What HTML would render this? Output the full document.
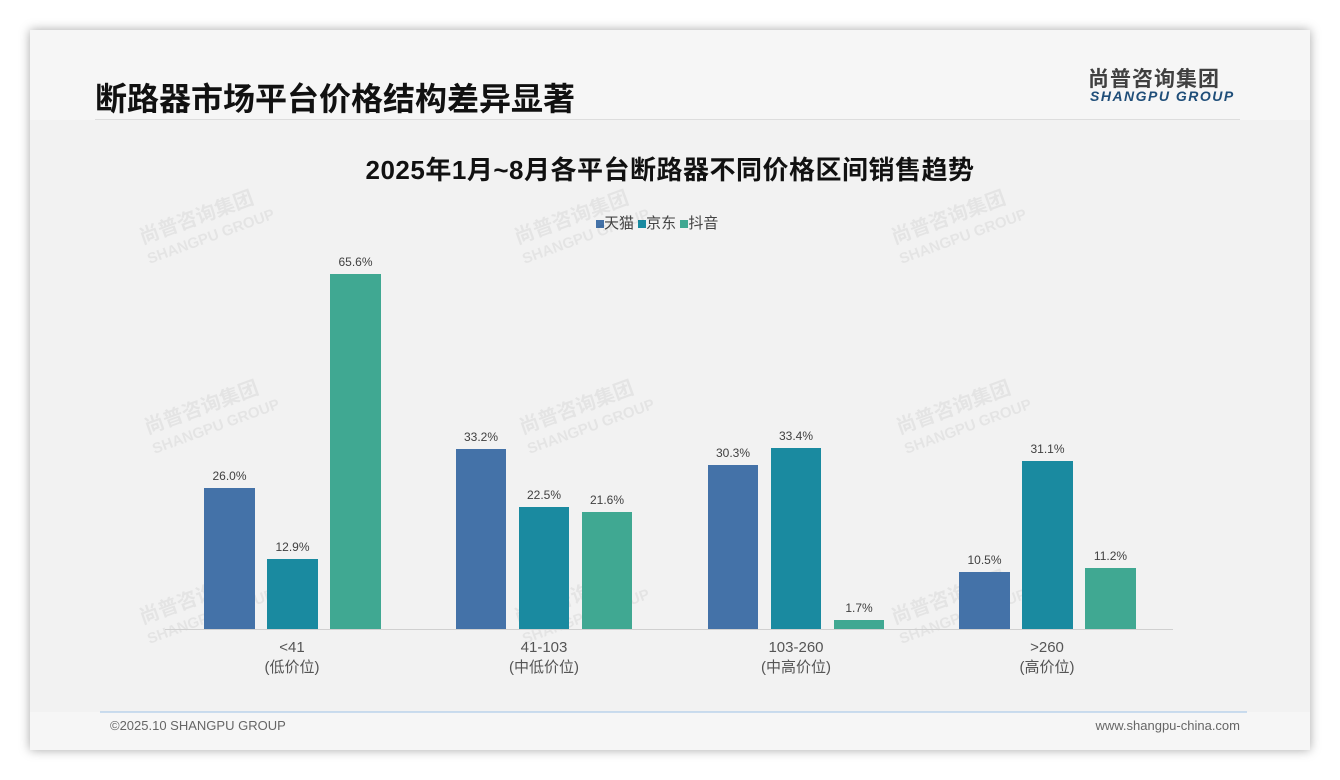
<!DOCTYPE html>
<html><head><meta charset="utf-8"><style>
body{margin:0;width:1340px;height:780px;background:#fff;position:relative;overflow:hidden;font-family:"Liberation Sans","Noto Sans CJK SC",sans-serif}
.card{position:absolute;left:30px;top:30px;width:1280px;height:720px;background:#f6f6f6;box-shadow:0 0 10px rgba(0,0,0,.35)}
.t{position:absolute;font-weight:bold}
.wm{position:absolute;color:rgba(0,0,0,.055);font-weight:bold;transform:rotate(-20deg);line-height:1.05}
</style></head><body>
<div class="card"></div>
<div style="position:absolute;left:30px;top:120px;width:1280px;height:592px;background:#f2f2f2"></div>
<div class="t" style="left:95px;top:74px;font-size:32px;color:#111">断路器市场平台价格结构差异显著</div>
<div style="position:absolute;left:95px;top:119px;width:1145px;height:1px;background:#ddd"></div>
<div class="t" style="left:1088px;top:63px;font-size:21px;color:#404040;letter-spacing:1px">尚普咨询集团</div>
<div class="t" style="left:1090px;top:88px;font-size:14px;color:#1f4e79;font-style:italic;letter-spacing:1.5px">SHANGPU GROUP</div>
<div class="t" style="left:0;width:1340px;text-align:center;top:150px;font-size:26px;letter-spacing:0.5px;color:#111">2025年1月~8月各平台断路器不同价格区间销售趋势</div>
<div style="position:absolute;left:596px;top:212px;font-size:15px;color:#444">
<span style="display:inline-block;width:8px;height:8px;background:#4472a8"></span>天猫 <span style="display:inline-block;width:8px;height:8px;background:#1a8aa0"></span>京东 <span style="display:inline-block;width:8px;height:8px;background:#40a892"></span>抖音</div>
<div class="wm" style="left:140px;top:205px;font-size:20px">尚普咨询集团<br><span style="font-size:15px">SHANGPU GROUP</span></div>
<div class="wm" style="left:515px;top:205px;font-size:20px">尚普咨询集团<br><span style="font-size:15px">SHANGPU GROUP</span></div>
<div class="wm" style="left:892px;top:205px;font-size:20px">尚普咨询集团<br><span style="font-size:15px">SHANGPU GROUP</span></div>
<div class="wm" style="left:145px;top:395px;font-size:20px">尚普咨询集团<br><span style="font-size:15px">SHANGPU GROUP</span></div>
<div class="wm" style="left:520px;top:395px;font-size:20px">尚普咨询集团<br><span style="font-size:15px">SHANGPU GROUP</span></div>
<div class="wm" style="left:897px;top:395px;font-size:20px">尚普咨询集团<br><span style="font-size:15px">SHANGPU GROUP</span></div>
<div class="wm" style="left:140px;top:585px;font-size:20px">尚普咨询集团<br><span style="font-size:15px">SHANGPU GROUP</span></div>
<div class="wm" style="left:515px;top:585px;font-size:20px">尚普咨询集团<br><span style="font-size:15px">SHANGPU GROUP</span></div>
<div class="wm" style="left:892px;top:585px;font-size:20px">尚普咨询集团<br><span style="font-size:15px">SHANGPU GROUP</span></div>
<svg style="position:absolute;left:0;top:0" width="1340" height="780" font-family="Liberation Sans, Noto Sans CJK SC, sans-serif">
<line x1="165" y1="629.5" x2="1173" y2="629.5" stroke="#d0d0d0"/>
<g font-size="12" fill="#404040" text-anchor="middle">
<rect x="204" y="488" width="51" height="141" fill="#4472a8"/><text x="229.5" y="480">26.0%</text>
<rect x="267" y="559" width="51" height="70" fill="#1a8aa0"/><text x="292.5" y="551">12.9%</text>
<rect x="330" y="274" width="51" height="355" fill="#40a892"/><text x="355.5" y="266">65.6%</text>
<rect x="456" y="449" width="50" height="180" fill="#4472a8"/><text x="481" y="441">33.2%</text>
<rect x="519" y="507" width="50" height="122" fill="#1a8aa0"/><text x="544" y="499">22.5%</text>
<rect x="582" y="512" width="50" height="117" fill="#40a892"/><text x="607" y="504">21.6%</text>
<rect x="708" y="465" width="50" height="164" fill="#4472a8"/><text x="733" y="457">30.3%</text>
<rect x="771" y="448" width="50" height="181" fill="#1a8aa0"/><text x="796" y="440">33.4%</text>
<rect x="834" y="620" width="50" height="9" fill="#40a892"/><text x="859" y="612">1.7%</text>
<rect x="959" y="572" width="51" height="57" fill="#4472a8"/><text x="984.5" y="564">10.5%</text>
<rect x="1022" y="461" width="51" height="168" fill="#1a8aa0"/><text x="1047.5" y="453">31.1%</text>
<rect x="1085" y="568" width="51" height="61" fill="#40a892"/><text x="1110.5" y="560">11.2%</text>
</g>
<g font-size="15" fill="#555" text-anchor="middle">
<text x="292" y="652">&lt;41</text><text x="292" y="672">(低价位)</text>
<text x="544" y="652">41-103</text><text x="544" y="672">(中低价位)</text>
<text x="796" y="652">103-260</text><text x="796" y="672">(中高价位)</text>
<text x="1047" y="652">&gt;260</text><text x="1047" y="672">(高价位)</text>
</g>
<line x1="100" y1="712" x2="1247" y2="712" stroke="#9dc3e6"/>
<text x="110" y="730" font-size="13" fill="#666">©2025.10 SHANGPU GROUP</text>
<text x="1240" y="730" font-size="13" fill="#666" text-anchor="end">www.shangpu-china.com</text>
</svg>
</body></html>
